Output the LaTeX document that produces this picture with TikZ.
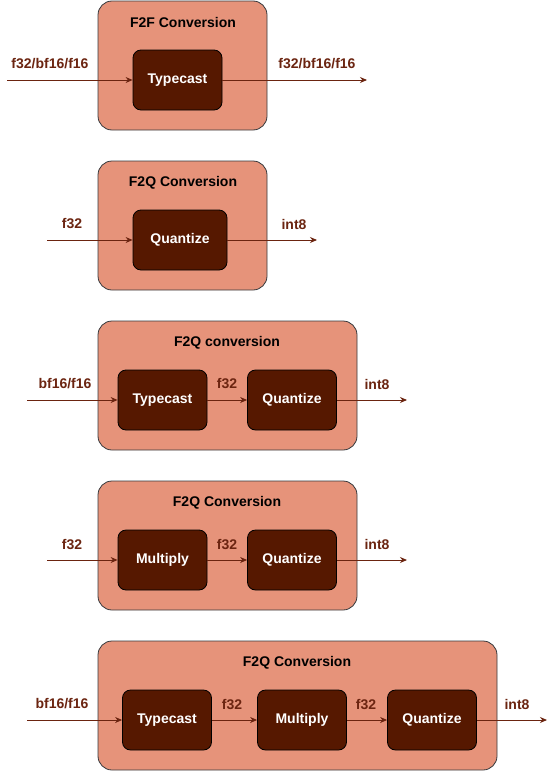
\documentclass[tikz,border=0pt]{standalone}
\usepackage{fontspec}
\setmainfont{Liberation Sans}
\usetikzlibrary{arrows.meta}
\definecolor{outerfill}{HTML}{E6937A}
\definecolor{outerdraw}{HTML}{36393D}
\definecolor{innerfill}{HTML}{561800}
\definecolor{arrcol}{HTML}{6B2410}
\definecolor{labcol}{HTML}{6B2410}
\begin{document}
\begin{tikzpicture}[x=1pt,y=-1pt,
  outerbox/.style={draw=outerdraw,fill=outerfill,rounded corners=14pt,line width=0.8pt,minimum width=#1,minimum height=129pt,inner sep=0pt},
  outerbox/.default=169pt,
  procbox/.style={draw=black,fill=innerfill,rounded corners=8pt,line width=0.8pt,minimum width=89pt,minimum height=60pt,inner sep=0pt,text=white,font=\fontsize{14}{16}\selectfont\bfseries},
  title/.style={font=\fontsize{14}{16}\selectfont\bfseries,text=black,inner sep=0pt},
  lab/.style={font=\fontsize{14}{16}\selectfont\bfseries,text=labcol,inner sep=0pt},
  arr/.style={draw=arrcol,line width=0.9pt,-{Stealth[length=7pt,width=6pt]}}
]
\useasboundingbox (0,0) rectangle (556,771);

% Block 1
\node[outerbox] (o1) at (182.5,65.5) {};
\node[title] (t1) at (183,22) {F2F Conversion};
\node[procbox] (p1) at (177.5,80) {Typecast};
\coordinate (i1) at (7,80);
\coordinate (e1) at (367,80);
\draw[arr] (i1) -- (p1.west);
\draw[arr] (p1.east) -- (e1);
\node[lab] (l1a) at (50,64) {f32/bf16/f16};
\node[lab] (l1b) at (317,64) {f32/bf16/f16};

% Block 2
\node[outerbox] (o2) at (182.5,225.5) {};
\node[title] (t2) at (183,183) {F2Q Conversion};
\node[procbox,minimum width=94pt] (p2) at (180,240) {Quantize};
\coordinate (i2) at (47,240);
\coordinate (e2) at (317,240);
\draw[arr] (i2) -- (p2.west);
\draw[arr] (p2.east) -- (e2);
\node[lab] (l2a) at (72,224) {f32};
\node[lab] (l2b) at (294,224) {int8};

% Block 3
\node[outerbox=259pt] (o3) at (227.5,385.5) {};
\node[title] (t3) at (227,343) {F2Q conversion};
\node[procbox] (p3a) at (162.5,400) {Typecast};
\node[procbox] (p3b) at (292,400) {Quantize};
\coordinate (i3) at (27,400);
\coordinate (e3) at (407,400);
\draw[arr] (i3) -- (p3a.west);
\draw[arr] (p3a.east) -- (p3b.west);
\draw[arr] (p3b.east) -- (e3);
\node[lab] (l3a) at (65,384) {bf16/f16};
\node[lab] (l3b) at (227,384) {f32};
\node[lab] (l3c) at (377,384) {int8};

% Block 4
\node[outerbox=259pt] (o4) at (227.5,545.5) {};
\node[title] (t4) at (227,503) {F2Q Conversion};
\node[procbox] (p4a) at (162.5,560) {Multiply};
\node[procbox] (p4b) at (292,560) {Quantize};
\coordinate (i4) at (47,560);
\coordinate (e4) at (407,560);
\draw[arr] (i4) -- (p4a.west);
\draw[arr] (p4a.east) -- (p4b.west);
\draw[arr] (p4b.east) -- (e4);
\node[lab] (l4a) at (72,544) {f32};
\node[lab] (l4b) at (227,544) {f32};
\node[lab] (l4c) at (377,544) {int8};

% Block 5
\node[outerbox=399pt] (o5) at (297.5,705.5) {};
\node[title] (t5) at (297,663) {F2Q Conversion};
\node[procbox] (p5a) at (167,720) {Typecast};
\node[procbox] (p5b) at (302,720) {Multiply};
\node[procbox] (p5c) at (432,720) {Quantize};
\coordinate (i5) at (27,720);
\coordinate (e5) at (547,720);
\draw[arr] (i5) -- (p5a.west);
\draw[arr] (p5a.east) -- (p5b.west);
\draw[arr] (p5b.east) -- (p5c.west);
\draw[arr] (p5c.east) -- (e5);
\node[lab] (l5a) at (62,704) {bf16/f16};
\node[lab] (l5b) at (232,704) {f32};
\node[lab] (l5c) at (366,704) {f32};
\node[lab] (l5d) at (517,704) {int8};
\end{tikzpicture}
\end{document}
